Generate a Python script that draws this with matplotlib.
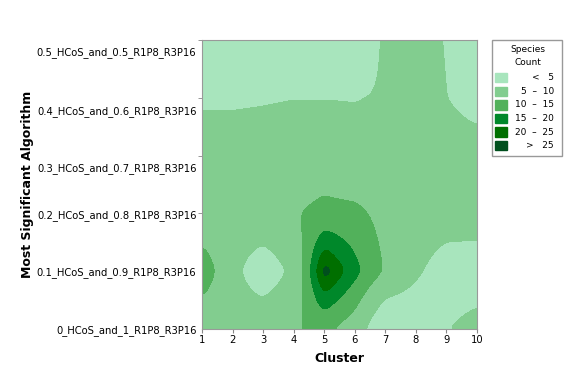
import numpy as np
import matplotlib
matplotlib.use("Agg")
import matplotlib.pyplot as plt
from matplotlib.patches import Rectangle

clusters = [1, 2, 3, 4, 5, 6, 7, 8, 9, 10]
algorithms = ["0_HCoS_and_1_R1P8_R3P16", "0.1_HCoS_and_0.9_R1P8_R3P16",
              "0.2_HCoS_and_0.8_R1P8_R3P16", "0.3_HCoS_and_0.7_R1P8_R3P16",
              "0.4_HCoS_and_0.6_R1P8_R3P16", "0.5_HCoS_and_0.5_R1P8_R3P16"]
# species count per algorithm (row) and cluster (column)
count_00 = [6.5, 7.0, 9.0, 9.6, 10.9, 7.5, 1.5, 2.5, 4.9, 6.0]
count_01 = [13.5, 6.3, 2.5, 6.0, 28.5, 16.8, 9.5, 5.5, 3.5, 3.5]
count_02 = [6.5, 7.0, 9.0, 9.6, 11.3, 11.2, 8.5, 7.0, 6.7, 6.5]
count_03 = [7.0, 7.0, 7.0, 7.5, 7.5, 6.0, 7.0, 7.0, 7.0, 7.0]
count_04 = [4.5, 4.5, 4.7, 4.9, 4.9, 4.9, 5.15, 6.5, 5.05, 3.5]
count_05 = [3.5, 3.5, 3.5, 3.5, 3.5, 4.0, 5.2, 6.5, 4.8, 3.5]

levels = [0, 5, 10, 15, 20, 25, 100]
level_labels = ["<   5", "5  \u2013  10", "10  \u2013  15", "15  \u2013  20", "20  \u2013  25", ">   25"]
colors = ["#a8e5bd", "#82cd8f", "#52b15b", "#00882a", "#006f00", "#004f1d"]

z = np.array([count_00, count_01, count_02, count_03, count_04, count_05])
x = np.array(clusters, dtype=float)
y = np.arange(len(algorithms), dtype=float)

# bilinear in log space, then a light gaussian blur to round the corners
step = 0.02
xf = np.arange(x[0], x[-1] + step / 2, step)
yf = np.arange(y[0], y[-1] + step / 2, step)
zl = np.log(z + 5)
g = np.array([np.interp(xf, x, r) for r in zl])
g = np.array([np.interp(yf, y, g[:, j]) for j in range(len(xf))]).T


def blur(arr, sigma, axis):
    n = int(3 * sigma / step)
    k = np.exp(-0.5 * (np.arange(-n, n + 1) * step / sigma) ** 2)
    k /= k.sum()
    pad = [(0, 0), (0, 0)]
    pad[axis] = (n, n)
    p = np.pad(arr, pad, mode="reflect")
    return np.apply_along_axis(lambda v: np.convolve(v, k, mode="valid"), axis, p)


g = blur(g, 0.10, 1)
g = blur(g, 0.07, 0)
zf = np.exp(g) - 5

fig = plt.figure(figsize=(5.76, 3.84), dpi=100)
ax = fig.add_axes([0.3507, 0.1432, 0.4774, 0.7526])
ax.contourf(xf, yf, zf, levels=levels, colors=colors, extend="both")

ax.set_xlim(1, 10)
ax.set_ylim(0, 5)
ax.set_xticks(clusters)
ax.tick_params(axis="x", labelsize=7.2, length=3, color="#888888", pad=1)

# labels sit a little off the tick marks, as in the original
ax.set_yticks([0, 1, 1.99, 2.81, 3.78, 4.8])
ax.set_yticklabels(algorithms)
ax.set_yticks(y, minor=True)
ax.tick_params(axis="y", which="major", labelsize=7.2, length=0, pad=4)
ax.tick_params(axis="y", which="minor", length=3, color="#888888")
for s in ax.spines.values():
    s.set_color("#999999")

ax.set_xlabel("Cluster", fontsize=9, fontweight="bold", labelpad=5)
ax.set_ylabel("Most Significant Algorithm", fontsize=9, fontweight="bold", labelpad=2)

# legend box
lx0, ly0, lw, lh = 492 / 576, 1 - 156 / 384, 70 / 576, 116 / 384
fig.patches.append(Rectangle((lx0, ly0), lw, lh, transform=fig.transFigure,
                             fill=False, edgecolor="#999999", lw=1))
fig.text(528 / 576, 1 - 56 / 384, "Species\nCount", fontsize=6.5,
         ha="center", va="center", linespacing=1.5)
for i, (lab, col) in enumerate(zip(level_labels, colors)):
    yc = 1 - (77.7 + 13.6 * i) / 384
    fig.patches.append(Rectangle((495 / 576, yc - 4.7 / 384), 12 / 576, 9.4 / 384,
                                 transform=fig.transFigure, color=col))
    fig.text(554 / 576, yc, lab, fontsize=6.5, ha="right", va="center")

fig.savefig("out.png", dpi=100)
